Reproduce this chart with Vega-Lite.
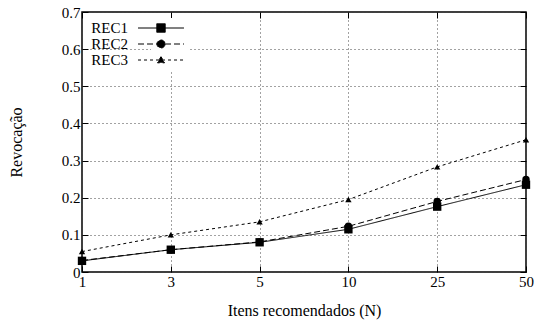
{
  "$schema": "https://vega.github.io/schema/vega-lite/v6.json",
  "width": 444,
  "height": 260,
  "autosize": "none",
  "padding": {"left": 82, "top": 12, "right": 8, "bottom": 52},
  "background": "white",
  "config": {
    "font": "Liberation Serif",
    "view": {"stroke": "black", "strokeWidth": 1.5},
    "axis": {
      "labelFont": "Liberation Serif",
      "titleFont": "Liberation Serif",
      "labelFontSize": 15,
      "titleFontSize": 16,
      "titleFontWeight": "normal",
      "labelColor": "black",
      "titleColor": "black",
      "domain": false,
      "tickColor": "black",
      "tickSize": -6,
      "tickWidth": 1,
      "gridColor": "#444",
      "gridDash": [1, 3],
      "gridWidth": 1
    },
    "legend": {
      "labelFont": "Liberation Serif",
      "labelFontSize": 15,
      "labelColor": "black"
    }
  },
  "data": {
    "values": [
      {"N": "1", "s": "REC1", "v": 0.030},
      {"N": "3", "s": "REC1", "v": 0.060},
      {"N": "5", "s": "REC1", "v": 0.080},
      {"N": "10", "s": "REC1", "v": 0.115},
      {"N": "25", "s": "REC1", "v": 0.176},
      {"N": "50", "s": "REC1", "v": 0.235},
      {"N": "1", "s": "REC2", "v": 0.031},
      {"N": "3", "s": "REC2", "v": 0.060},
      {"N": "5", "s": "REC2", "v": 0.081},
      {"N": "10", "s": "REC2", "v": 0.123},
      {"N": "25", "s": "REC2", "v": 0.190},
      {"N": "50", "s": "REC2", "v": 0.249},
      {"N": "1", "s": "REC3", "v": 0.055},
      {"N": "3", "s": "REC3", "v": 0.100},
      {"N": "5", "s": "REC3", "v": 0.135},
      {"N": "10", "s": "REC3", "v": 0.195},
      {"N": "25", "s": "REC3", "v": 0.283},
      {"N": "50", "s": "REC3", "v": 0.356}
    ]
  },
  "resolve": {"axis": {"x": "independent", "y": "independent"}},
  "layer": [
    {
      "mark": {"type": "line", "color": "black", "strokeWidth": 1},
      "encoding": {
        "x": {
          "field": "N", "type": "ordinal",
          "sort": ["1", "3", "5", "10", "25", "50"],
          "scale": {"type": "point", "padding": 0},
          "axis": {"title": "Itens recomendados (N)", "labelAngle": 0, "labelPadding": 8, "titlePadding": 13, "grid": true}
        },
        "y": {
          "field": "v", "type": "quantitative",
          "scale": {"domain": [0, 0.7], "nice": false},
          "axis": {"title": "Revocação", "values": [0, 0.1, 0.2, 0.3, 0.4, 0.5, 0.6, 0.7], "format": "~g", "labelPadding": 8, "titlePadding": 37, "grid": true}
        },
        "strokeDash": {
          "field": "s", "type": "nominal",
          "scale": {"domain": ["REC1", "REC2", "REC3"], "range": [[1, 0], [6, 3], [3, 3]]},
          "legend": {
            "title": null,
            "orient": "none",
            "legendX": 69,
            "legendY": 6,
            "fillColor": "white",
            "padding": 2,
            "symbolSize": 200,
            "symbolStrokeWidth": 1,
            "symbolStrokeColor": "black",
            "symbolFillColor": "black",
            "labelAlign": "right",
            "labelOffset": -41,
            "rowPadding": 0,
            "offset": 0,
            "encode": {
              "symbols": {
                "update": {
                  "shape": {"signal": "datum.value === 'REC1' ? 'M-3.25,0H3.25M-0.6,-0.6H0.6V0.6H-0.6Z' : datum.value === 'REC2' ? 'M-3.25,0H3.25M0.57,0A0.57,0.57,0,1,1,-0.57,0A0.57,0.57,0,1,1,0.57,0Z' : 'M-3.25,0H3.25M0,-0.48L0.5,0.4H-0.5Z'"},
                  "fill": {"value": "black"},
                  "stroke": {"value": "black"}
                }
              }
            }
          }
        }
      }
    },
    {
      "transform": [{"filter": "datum.s === 'REC1'"}],
      "mark": {"type": "point", "filled": true, "color": "black", "opacity": 1, "shape": "square", "size": 70},
      "encoding": {
        "x": {"field": "N", "type": "ordinal", "sort": ["1", "3", "5", "10", "25", "50"], "axis": {"orient": "top", "labels": false, "title": null, "grid": false}},
        "y": {"field": "v", "type": "quantitative", "axis": {"orient": "right", "labels": false, "title": null, "grid": false, "values": [0, 0.1, 0.2, 0.3, 0.4, 0.5, 0.6, 0.7]}}
      }
    },
    {
      "transform": [{"filter": "datum.s === 'REC2'"}],
      "mark": {"type": "point", "filled": true, "color": "black", "opacity": 1, "shape": "circle", "size": 55},
      "encoding": {
        "x": {"field": "N", "type": "ordinal", "sort": ["1", "3", "5", "10", "25", "50"], "axis": null},
        "y": {"field": "v", "type": "quantitative", "axis": null}
      }
    },
    {
      "transform": [{"filter": "datum.s === 'REC3'"}],
      "mark": {"type": "point", "filled": true, "color": "black", "opacity": 1, "shape": "triangle-up", "size": 40},
      "encoding": {
        "x": {"field": "N", "type": "ordinal", "sort": ["1", "3", "5", "10", "25", "50"], "axis": null},
        "y": {"field": "v", "type": "quantitative", "axis": null}
      }
    }
  ]
}
